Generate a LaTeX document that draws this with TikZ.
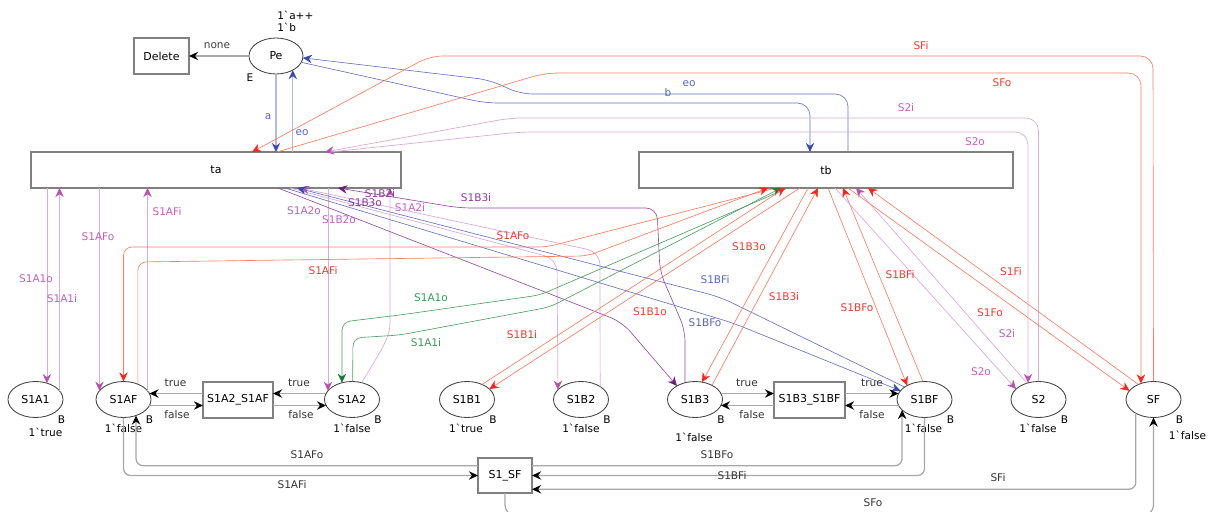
\documentclass[tikz,border=0pt]{standalone}
\usepackage{fontspec}
\setmainfont{DejaVu Sans}
\usetikzlibrary{shapes.geometric,arrows.meta}
\definecolor{grayline}{HTML}{A8A8A8}
\definecolor{redline}{HTML}{FF7A5E}
\definecolor{redtip}{HTML}{FF2418}
\definecolor{redtext}{HTML}{F23A2C}
\definecolor{pinkline}{HTML}{DEAAD8}
\definecolor{pinktip}{HTML}{B850AE}
\definecolor{pinktext}{HTML}{C65CBE}
\definecolor{purpline}{HTML}{94489F}
\definecolor{purptip}{HTML}{6C1C7E}
\definecolor{purptext}{HTML}{8C3A9A}
\definecolor{blueline}{HTML}{6470C4}
\definecolor{bluepale}{HTML}{B4B8E2}
\definecolor{bluetip}{HTML}{3848AE}
\definecolor{bluetext}{HTML}{5666C2}
\definecolor{greenline}{HTML}{4A9F62}
\definecolor{greentip}{HTML}{0E7A34}
\definecolor{greentext}{HTML}{3A9A55}
\tikzset{
  place/.style={ellipse,draw=black!75,line width=0.6pt,minimum width=13.75mm,
    minimum height=9mm,inner sep=0pt,outer sep=0pt,font=\fontsize{7.8}{9}\selectfont},
  trans/.style={rectangle,draw=black!50,line width=0.8pt,minimum height=9mm,
    inner sep=0pt,outer sep=0pt,font=\fontsize{7.8}{9}\selectfont},
  lab/.style={inner sep=0pt,font=\fontsize{7.5}{9}\selectfont},
  grayflow/.style={draw=grayline,line width=0.9pt,rounded corners=6pt,
    -{Stealth[length=6.5pt,width=6pt,inset=2.2pt,color=black]}},
  redflow/.style={draw=redline,line width=0.45pt,rounded corners=6pt,
    -{Stealth[length=6.5pt,width=6pt,inset=2.2pt,color=redtip]}},
  pinkflow/.style={draw=pinkline,line width=0.5pt,rounded corners=6pt,
    -{Stealth[length=6.5pt,width=6pt,inset=2.2pt,color=pinktip]}},
  purpflow/.style={draw=purpline,line width=0.45pt,rounded corners=6pt,
    -{Stealth[length=6.5pt,width=6pt,inset=2.2pt,color=purptip]}},
  blueflow/.style={draw=blueline,line width=0.45pt,rounded corners=6pt,
    -{Stealth[length=6.5pt,width=6pt,inset=2.2pt,color=bluetip]}},
  paleflow/.style={draw=bluepale,line width=0.9pt,
    -{Stealth[length=6.5pt,width=6pt,inset=2.2pt,color=bluetip]}},
  greenflow/.style={draw=greenline,line width=0.45pt,rounded corners=6pt,
    -{Stealth[length=6.5pt,width=6pt,inset=2.2pt,color=greentip]}},
}
\begin{document}
\begin{tikzpicture}[x=0.025cm,y=-0.025cm]
  \useasboundingbox (0,0) rectangle (1210,512);
  % places and transitions
  \node[place,minimum width=13.5mm] (pe) at (276,56) {Pe};
  \node[trans,minimum width=13.75mm] (del) at (161.5,56) {Delete};
  \node[trans,minimum width=92.5mm] (ta) at (216,170) {ta};
  \node[trans,minimum width=93.5mm] (tb) at (826,170) {tb};
  \node[place] (a1) at (35.5,399.5) {S1A1};
  \node[place] (af) at (123.5,399.5) {S1AF};
  \node[trans,minimum width=17.5mm] (tf) at (238,400) {S1A2\_S1AF};
  \node[place] (a2) at (352,399.5) {S1A2};
  \node[place] (b1) at (467,399.5) {S1B1};
  \node[place] (b2) at (581,399.5) {S1B2};
  \node[place] (b3) at (695,399.5) {S1B3};
  \node[trans,minimum width=17.75mm] (tbf) at (809.5,400) {S1B3\_S1BF};
  \node[place] (bf) at (924.5,399.5) {S1BF};
  \node[place] (s2) at (1038.5,399.5) {S2};
  \node[place] (sf) at (1153.5,399.5) {SF};
  \node[trans,minimum width=13.5mm,minimum height=8.75mm] (tsf) at (505,475.5) {S1\_SF};

  % colour sets and markings
  \node[lab,align=left,anchor=west,font=\fontsize{7.5}{8.6}\selectfont] (pemark) at (277,21.5)
    {1\textasciigrave a++\\1\textasciigrave b};
  \node[lab] (pecol) at (250,78) {E};
  \foreach \p in {a1,af,a2,b1,b2,b3,bf,s2,sf}
    \node[lab] (\p col) at ([shift={(26,20.5)}]\p) {B};
  \node[lab] (a1mark) at (45.5,432) {1\textasciigrave true};
  \node[lab] (afmark) at (123.5,428) {1\textasciigrave false};
  \node[lab] (a2mark) at (352,428) {1\textasciigrave false};
  \node[lab] (b1mark) at (466,428) {1\textasciigrave true};
  \node[lab] (b2mark) at (581,428) {1\textasciigrave false};
  \node[lab] (b3mark) at (694,437) {1\textasciigrave false};
  \node[lab] (bfmark) at (923.5,428) {1\textasciigrave false};
  \node[lab] (s2mark) at (1038,428) {1\textasciigrave false};
  \node[lab] (sfmark) at (1187.5,435) {1\textasciigrave false};

  % Pe
  \draw[grayflow] (pe) -- (del);
  \draw[paleflow] (pe.south) -- (pe.south |- ta.north);
  \draw[paleflow] (ta.north -| pe.-40) -- (pe.-40);
  \draw[blueflow,rounded corners=9pt] (pe.-14) -- (485,103) -- (810,103) -- (tb.north -| 810,0);
  \draw[blueflow,rounded corners=9pt] (tb.north -| 848,0) -- (848,94) -- (520,94) -- (490,80) -- (pe.-4);
  \node[lab,text=black!75] (lnone) at (217,46) {none};
  \node[lab,text=bluetext] (la) at (268,117) {a};
  \node[lab,text=bluetext] (leo) at (302,133) {eo};
  \node[lab,text=bluetext] (lb) at (668,93) {b};
  \node[lab,text=bluetext] (leob) at (689,84) {eo};

  % long routes over the top
  \draw[redflow,rounded corners=9pt] (sf.north) -- (1153,56) -- (430,56) -- (ta.north -| 252,0);
  \draw[redflow,rounded corners=9pt] (ta.north -| 277,0) -- (545,73) -- (1141,73) -- (sf.128);
  \draw[pinkflow,rounded corners=9pt] (s2.north) -- (1038.5,118) -- (510,118) -- (ta.north -| 325,0);
  \draw[pinkflow,rounded corners=9pt] (ta.north -| 330,0) -- (520,132) -- (1028,132) -- (s2.122);
  \node[lab,text=redtext] (lsfi) at (921,46) {SFi};
  \node[lab,text=redtext] (lsfo) at (1002,83) {SFo};
  \node[lab,text=pinktext] (ls2i) at (906,108) {S2i};
  \node[lab,text=pinktext] (ls2o) at (975,142) {S2o};

  % ta to the S1A places
  \draw[pinkflow] (a1.55 |- ta.south) -- (a1.55);
  \draw[pinkflow] (a1.20) -- (a1.20 |- ta.south);
  \draw[pinkflow] (af.160 |- ta.south) -- (af.160);
  \draw[pinkflow] (af.20) -- (af.20 |- ta.south);
  \draw[pinkflow] (a2.160 |- ta.south) -- (a2.160);
  \draw[pinkflow] (a2.60) .. controls (380,352) and (390,338) .. (390,315) -- (ta.south -| 390,0);
  \node[lab,text=pinktext] (ls1a1o) at (36,279) {S1A1o};
  \node[lab,text=pinktext] (ls1a1i) at (62,299) {S1A1i};
  \node[lab,text=pinktext] (ls1afo) at (98,237) {S1AFo};
  \node[lab,text=pinktext] (ls1afi) at (167,212) {S1AFi};
  \node[lab,text=pinktext] (ls1a2o) at (304,211) {S1A2o};
  \node[lab,text=pinktext] (ls1a2i) at (410,208) {S1A2i};

  % ta to the S1B places
  \draw[pinkflow,rounded corners=9pt] (ta.south -| 290,0) -- (557,259) -- (b2.157);
  \draw[pinkflow,rounded corners=9pt] (b2.34) -- (600,252) -- (ta.south -| 300,0);
  \draw[purpflow,rounded corners=9pt] (ta.south -| 278,0) -- (622,322) -- (b3.143);
  \draw[purpflow,rounded corners=8pt] (b3.121) -- (685,330) -- (660,272) -- (657,208)
    -- (460,208) -- (ta.south -| 338,0);
  \draw[blueflow,rounded corners=9pt] (bf.148) -- (720,297) -- (ta.south -| 297,0);
  \draw[blueflow,rounded corners=9pt] (ta.south -| 285,0) -- (733,323) -- (bf.160);
  \node[lab,text=pinktext] (ls1b2o) at (339,220) {S1B2o};
  \node[lab,text=purptext] (ls1b2i) at (380,194) {S1B2i};
  \node[lab,text=purptext] (ls1b3o) at (365,203) {S1B3o};
  \node[lab,text=purptext] (ls1b3i) at (476,198) {S1B3i};
  \node[lab,text=bluetext] (ls1bfi) at (715,280) {S1BFi};
  \node[lab,text=bluetext] (ls1bfo) at (705,323) {S1BFo};

  % tb to the places
  \draw[redflow] (tb.south -| 776,0) -- (547,247) -- (123.5,247) -- (af.north);
  \draw[redflow] (af.47) -- (af.47 |- 0,262) -- (587,256) -- (tb.south -| 768,0);
  \draw[greenflow] (tb.south -| 788,0) -- (540,295) -- (400,315) -- (342,322) -- (a2.121);
  \draw[greenflow] (a2.88) -- (353,338) -- (400,335) -- (550,307) -- (tb.south -| 781,0);
  \draw[redflow] (tb.south -| 800,0) -- (b1.25);
  \draw[redflow] (b1.45) -- (tb.south -| 785,0);
  \draw[redflow] (tb.south -| 808,0) -- (b3.68);
  \draw[redflow] (b3.40) -- (tb.south -| 818,0);
  \draw[redflow] (tb.south -| 828,0) -- (bf.141);
  \draw[redflow] (bf.95) -- (tb.south -| 843,0);
  \draw[pinkflow] (tb.south -| 835,0) -- (s2.155);
  \draw[pinkflow] (s2.125) -- (tb.south -| 856,0);
  \draw[redflow] (tb.south -| 848,0) -- (sf.160);
  \draw[redflow] (sf.135) -- (tb.south -| 868,0);
  \node[lab,text=redtext] (rs1afo) at (513,236) {S1AFo};
  \node[lab,text=redtext] (rs1afi) at (323,271) {S1AFi};
  \node[lab,text=greentext] (gs1a1o) at (431,298) {S1A1o};
  \node[lab,text=greentext] (gs1a1i) at (426,343) {S1A1i};
  \node[lab,text=redtext] (rs1b1o) at (650,312) {S1B1o};
  \node[lab,text=redtext] (rs1b1i) at (522,335) {S1B1i};
  \node[lab,text=redtext] (rs1b3o) at (749,247) {S1B3o};
  \node[lab,text=redtext] (rs1b3i) at (784,297) {S1B3i};
  \node[lab,text=redtext] (rs1bfo) at (857,308) {S1BFo};
  \node[lab,text=redtext] (rs1bfi) at (900,275) {S1BFi};
  \node[lab,text=pinktext] (rs2o) at (981,372) {S2o};
  \node[lab,text=pinktext] (rs2i) at (1007,334) {S2i};
  \node[lab,text=redtext] (rs1fo) at (990,313) {S1Fo};
  \node[lab,text=redtext] (rs1fi) at (1011,272) {S1Fi};

  % local transitions
  \draw[grayflow] (tf.west |- af.13) -- (af.13);
  \draw[grayflow] (af.-13) -- (tf.west |- af.-13);
  \draw[grayflow] (a2.167) -- (tf.east |- a2.167);
  \draw[grayflow] (tf.east |- a2.193) -- (a2.193);
  \draw[grayflow] (b3.13) -- (tbf.west |- b3.13);
  \draw[grayflow] (tbf.west |- b3.-13) -- (b3.-13);
  \draw[grayflow] (tbf.east |- bf.167) -- (bf.167);
  \draw[grayflow] (bf.193) -- (tbf.east |- bf.193);
  \node[lab,text=black!80] (ltrue1) at (175.5,383) {true};
  \node[lab,text=black!80] (lfalse1) at (177,415) {false};
  \node[lab,text=black!80] (ltrue2) at (299,383) {true};
  \node[lab,text=black!80] (lfalse2) at (301,415) {false};
  \node[lab,text=black!80] (ltrue3) at (747,383) {true};
  \node[lab,text=black!80] (lfalse3) at (752,415) {false};
  \node[lab,text=black!80] (ltrue4) at (872,383) {true};
  \node[lab,text=black!80] (lfalse4) at (872,415) {false};

  % S1_SF
  \draw[grayflow,rounded corners=5pt] (tsf.160) -| (af.-52);
  \draw[grayflow,rounded corners=5pt] (af.south) |- (tsf.west);
  \draw[grayflow,rounded corners=5pt] (tsf.20) -| (bf.205);
  \draw[grayflow,rounded corners=5pt] (bf.south) |- (tsf.east);
  \draw[grayflow,rounded corners=5pt] (sf.218) |- (tsf.-27);
  \draw[grayflow,rounded corners=7pt] (tsf.south) -- (tsf.south |- 0,515) -| (sf.south);
  \node[lab,text=black!80] (ls1afo2) at (307,455) {S1AFo};
  \node[lab,text=black!80] (ls1afi2) at (292,485) {S1AFi};
  \node[lab,text=black!80] (ls1bfo2) at (717,455) {S1BFo};
  \node[lab,text=black!80] (ls1bfi2) at (732,476) {S1BFi};
  \node[lab,text=black!80] (lsfi2) at (998,478) {SFi};
  \node[lab,text=black!80] (lsfo2) at (873,503) {SFo};
\end{tikzpicture}
\end{document}
